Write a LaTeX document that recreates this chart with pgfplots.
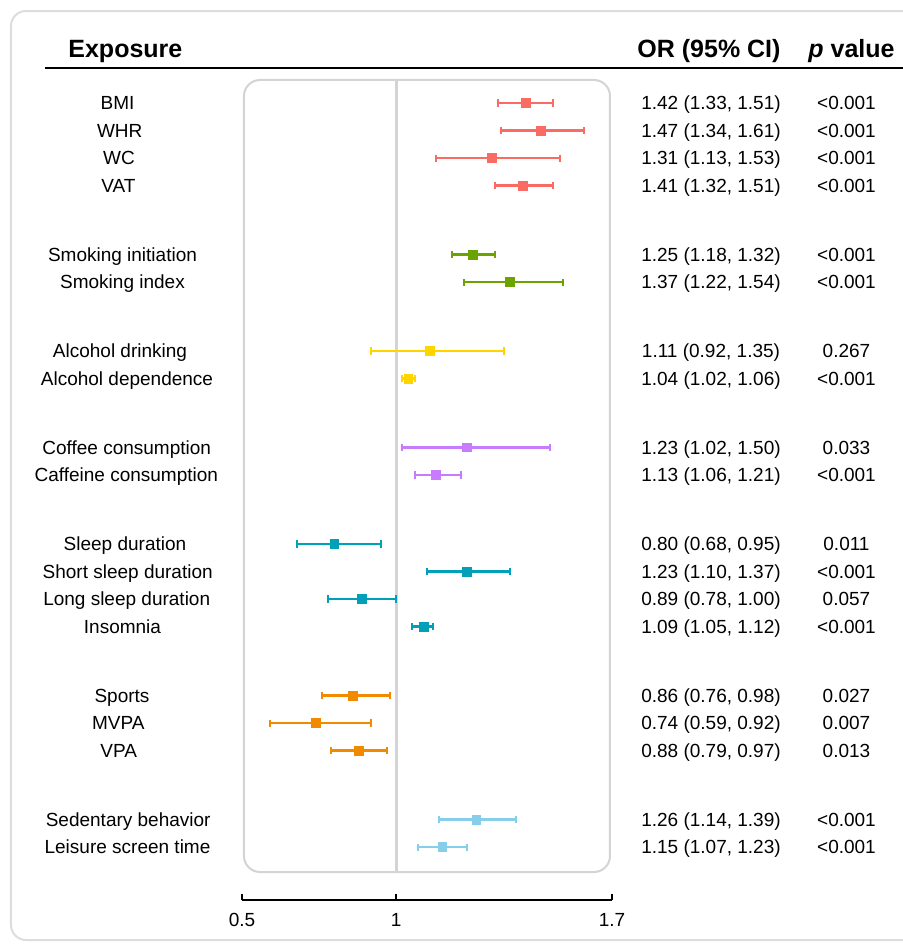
\documentclass[border=0pt]{standalone}
\usepackage{fontspec}
\setmainfont{Liberation Sans}
\usepackage{pgfplots}
\usepackage{pgfplotstable}
\pgfplotsset{compat=1.18}

\definecolor{cRed}{HTML}{F96B63}
\definecolor{cGreen}{HTML}{6BA300}
\definecolor{cYellow}{HTML}{FFD500}
\definecolor{cPurple}{HTML}{C77CFF}
\definecolor{cTeal}{HTML}{00A0B8}
\definecolor{cOrange}{HTML}{F28A00}
\definecolor{cSky}{HTML}{87CEEB}
\definecolor{panelgray}{HTML}{D4D4D4}
\definecolor{outergray}{HTML}{DDDDDD}

% estimates per group: row position, OR, lower, upper
\pgfplotstableread{
y or lo hi
0 1.42 1.33 1.51
-1 1.47 1.34 1.61
-2 1.31 1.13 1.53
-3 1.41 1.32 1.51
}\gAdipo
\pgfplotstableread{
y or lo hi
-5.5 1.25 1.18 1.32
-6.5 1.37 1.22 1.54
}\gSmoke
\pgfplotstableread{
y or lo hi
-9 1.11 0.92 1.35
-10 1.04 1.02 1.06
}\gAlc
\pgfplotstableread{
y or lo hi
-12.5 1.23 1.02 1.50
-13.5 1.13 1.06 1.21
}\gCoffee
\pgfplotstableread{
y or lo hi
-16 0.80 0.68 0.95
-17 1.23 1.10 1.37
-18 0.89 0.78 1.00
-19 1.09 1.05 1.12
}\gSleep
\pgfplotstableread{
y or lo hi
-21.5 0.86 0.76 0.98
-22.5 0.74 0.59 0.92
-23.5 0.88 0.79 0.97
}\gPA
\pgfplotstableread{
y or lo hi
-26 1.26 1.14 1.39
-27 1.15 1.07 1.23
}\gSed

% text columns
\pgfplotstableread[col sep=semicolon]{
name;ci;p;y;lx
BMI;1.42 (1.33, 1.51);<0.001;0;0.0962
WHR;1.47 (1.34, 1.61);<0.001;-1;0.1034
WC;1.31 (1.13, 1.53);<0.001;-2;0.1011
VAT;1.41 (1.32, 1.51);<0.001;-3;0.0995
Smoking initiation;1.25 (1.18, 1.32);<0.001;-5.5;0.1124
Smoking index;1.37 (1.22, 1.54);<0.001;-6.5;0.1124
Alcohol drinking;1.11 (0.92, 1.35);0.267;-9;0.1043
Alcohol dependence;1.04 (1.02, 1.06);<0.001;-10;0.1270
Coffee consumption;1.23 (1.02, 1.50);0.033;-12.5;0.1261
Caffeine consumption;1.13 (1.06, 1.21);<0.001;-13.5;0.1248
Sleep duration;0.80 (0.68, 0.95);0.011;-16;0.1205
Short sleep duration;1.23 (1.10, 1.37);<0.001;-17;0.1293
Long sleep duration;0.89 (0.78, 1.00);0.057;-18;0.1261
Insomnia;1.09 (1.05, 1.12);<0.001;-19;0.1124
Sports;0.86 (0.76, 0.98);0.027;-21.5;0.1108
MVPA;0.74 (0.59, 0.92);0.007;-22.5;0.0988
VPA;0.88 (0.79, 0.97);0.013;-23.5;0.1004
Sedentary behavior;1.26 (1.14, 1.39);<0.001;-26;0.1309
Leisure screen time;1.15 (1.07, 1.23);<0.001;-27;0.1287
}\labels

\pgfplotsset{
  fp/.style={only marks, mark=square*, mark size=2.2pt, color=#1,
    error bars/x dir=both, error bars/x explicit,
    error bars/error mark=|,
    error bars/error bar style={line width=1.25pt, color=#1},
    error bars/error mark options={line width=1pt, mark size=1.8pt, color=#1}},
  txt/.style={draw=none, mark=none, nodes near coords, point meta=explicit symbolic,
    every node near coord/.append style={anchor=base, yshift=-3.4pt, inner sep=0pt, black,
      font=\fontsize{9.5}{11}\selectfont}},
  /pgfplots/table/fptab/.style={x=or, y=y,
    x error minus expr=\thisrow{or}-\thisrow{lo},
    x error plus expr=\thisrow{hi}-\thisrow{or}},
}

\begin{document}
\begin{tikzpicture}[font=\fontsize{9.5}{11}\selectfont]
\begin{axis}[
  scale only axis, width=185pt, height=410pt,
  xmin=0.5, xmax=1.7, ymin=-28.919, ymax=0.8345,
  clip=false,
  axis x line*=bottom, axis y line=none,
  axis line style={line width=1pt, black},
  xtick={0.5,1,1.7}, xticklabels={0.5,1,1.7},
  ytick=\empty,
  tick align=inside, major tick length=3pt,
  tick style={line width=1pt, black},
  xticklabel style={font=\fontsize{9.5}{11}\selectfont, yshift=-3pt},
  /pgf/number format/assume math mode=true,
]
% outer frame and header
\draw[outergray, line width=1pt, rounded corners=7.5pt] (axis cs:-0.2492,3.338) rectangle (axis cs:2.8287,-30.370);
\draw[black, line width=1pt] (axis cs:-0.1389,1.270) -- (axis cs:2.70,1.270);
\node[anchor=base west, inner sep=0pt, font=\fontsize{12.5}{14}\selectfont\bfseries] at (axis cs:-0.0643,1.66) {Exposure};
\node[anchor=base, inner sep=0pt, font=\fontsize{12.5}{14}\selectfont\bfseries] at (axis cs:2.0146,1.66) {OR (95\% CI)};
\node[anchor=base east, inner sep=0pt, font=\fontsize{12.5}{14}\selectfont\bfseries] at (axis cs:2.6178,1.66) {\textit{p} value};
% panel and reference line
\draw[panelgray, line width=1pt, rounded corners=8pt] (axis cs:0.50649,0.8345) rectangle (axis cs:1.69351,-27.903);
\draw[panelgray, line width=1.4pt] (axis cs:1,0.8345) -- (axis cs:1,-27.903);
% estimates
\addplot[fp=cRed] table[fptab] {\gAdipo};
\addplot[fp=cGreen] table[fptab] {\gSmoke};
\addplot[fp=cYellow] table[fptab] {\gAlc};
\addplot[fp=cPurple] table[fptab] {\gCoffee};
\addplot[fp=cTeal] table[fptab] {\gSleep};
\addplot[fp=cOrange] table[fptab] {\gPA};
\addplot[fp=cSky] table[fptab] {\gSed};
% text columns
\addplot[txt] table[x=lx, y=y, meta=name] {\labels};
\addplot[txt] table[x expr=2.0211, y=y, meta=ci] {\labels};
\addplot[txt] table[x expr=2.4605, y=y, meta=p] {\labels};
% page box
\coordinate (bbTL) at (axis cs:-0.28486,3.7373);
\coordinate (bbBR) at (axis cs:2.64378,-30.624);
\end{axis}
\pgfresetboundingbox
\useasboundingbox (bbTL) rectangle (bbBR);
\end{tikzpicture}
\end{document}
